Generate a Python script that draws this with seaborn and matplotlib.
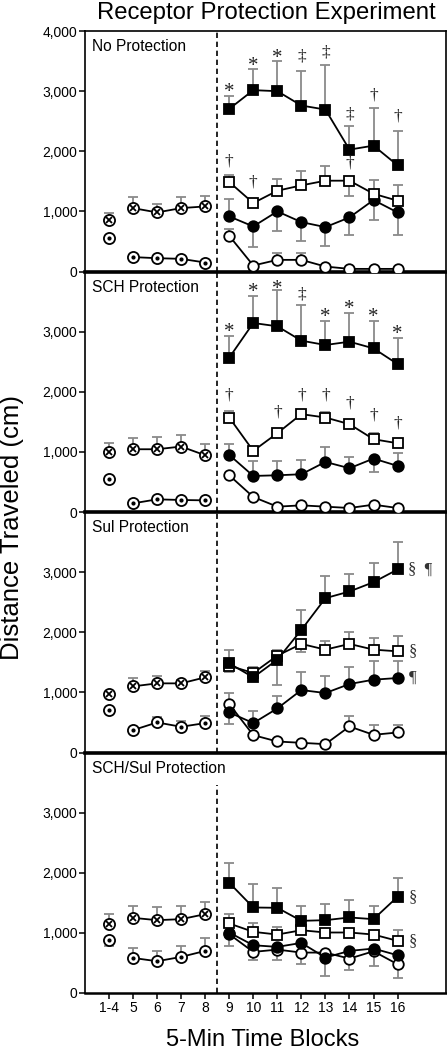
import numpy as np
import pandas as pd
import matplotlib
matplotlib.use("Agg")
import matplotlib.pyplot as plt
import seaborn as sns

# ---------------- data ----------------
x_labels = ["1-4", "5", "6", "7", "8", "9", "10", "11", "12", "13", "14", "15", "16"]
panel_titles = ["No Protection", "SCH Protection", "Sul Protection", "SCH/Sul Protection"]
y_ticks_top = [0, 1000, 2000, 3000, 4000]
y_tick_labels_top = ["0", "1,000", "2,000", "3,000", "4,000"]
y_ticks = [0, 1000, 2000, 3000]
y_tick_labels = ["0", "1,000", "2,000", "3,000"]

nan = np.nan
# pre-phase (blocks 1-4, 5, 6, 7, 8): crossed circles and dotted circles
pre_cross = [
    [860, 1055, 983, 1055, 1083],
    [1000, 1044, 1044, 1089, 944],
    [972, 1100, 1150, 1150, 1250],
    [1144, 1250, 1211, 1228, 1311],
]
pre_cross_err = [
    [110, 178, 139, 178, 167],
    [156, 195, 212, 194, 195],
    [nan, 139, 117, 60, 100],
    [162, 200, 211, 216, 206],
]
pre_dot = [
    [555, 240, 222, 211, 150],
    [556, 144, 211, 200, 194],
    [706, 372, 500, 428, 489],
    [889, 583, 528, 600, 700],
]
pre_dot_err = [
    [nan, nan, nan, nan, nan],
    [nan, nan, nan, nan, nan],
    [nan, nan, 83, 100, 122],
    [-111, 173, 172, 183, 217],
]
# post-phase (blocks 9-16)
sq_filled = [
    [2705, 3017, 3000, 2761, 2694, 2028, 2094, 1767],
    [2567, 3144, 3089, 2850, 2778, 2833, 2722, 2461],
    [1483, 1250, 1544, 2039, 2567, 2678, 2833, 3044],
    [1833, 1422, 1417, 1200, 1211, 1256, 1228, 1600],
]
sq_filled_err = [
    [212, 355, 494, 572, 734, 389, 628, 577],
    [361, 445, 600, 594, 394, 478, 450, 433],
    [223, nan, -416, 339, 361, 294, 317, 450],
    [334, 384, 322, 250, 261, 288, 222, 306],
]
sq_open = [
    [1489, 1139, 1344, 1433, 1511, 1511, 1294, 1178],
    [1572, 1017, 1311, 1628, 1572, 1461, 1211, 1144],
    [1444, 1322, 1611, 1806, 1711, 1806, 1711, 1683],
    [1156, 1017, 972, 1044, 1006, 1006, 972, 867],
]
sq_open_err = [
    [122, nan, 195, 234, 239, -250, 234, 261],
    [111, nan, nan, nan, 95, nan, 111, nan],
    [-111, 95, 95, -128, 139, 205, 195, 261],
    [155, 150, 128, nan, nan, nan, nan, 177],
]
circ_filled = [
    [917, 750, 1000, 822, 739, 900, 1189, 983],
    [950, 600, 611, 628, 833, 728, 889, 767],
    [667, 489, 733, 1039, 989, 1139, 1211, 1239],
    [1006, 794, 767, 833, 589, 700, 739, 628],
]
circ_filled_err = [
    [294, -350, -322, -322, -306, -289, -339, -372],
    [178, 250, 239, 233, 250, 189, -217, 211],
    [-195, 194, 211, 300, 289, 278, 317, 289],
    [-223, nan, nan, nan, -311, nan, nan, nan],
]
circ_open = [
    [594, 100, 194, 194, 83, 44, 44, 44],
    [611, 250, 89, 111, 89, 67, 122, 67],
    [806, 289, 183, 161, 139, 433, 294, 333],
    [978, 683, 722, 672, 672, 572, 694, 478],
]
circ_open_err = [
    [112, nan, 112, 112, nan, nan, nan, nan],
    [nan, nan, nan, nan, nan, nan, nan, nan],
    [183, nan, nan, nan, nan, 178, 162, 123],
    [nan, -139, -178, -183, nan, -194, -250, -222],
]
# significance marks: (block label, y value, symbol)
marks = [
    [("9", 3100, "*"), ("10", 3528, "*"), ("11", 3667, "*"), ("12", 3583, "‡"),
     ("13", 3639, "‡"), ("14", 2611, "‡"), ("15", 2928, "†"), ("16", 2583, "†"),
     ("9", 1833, "†"), ("10", 1489, "†"), ("14", 1794, "†")],
    [("9", 3100, "*"), ("10", 3767, "*"), ("11", 3822, "*"), ("12", 3611, "‡"),
     ("13", 3350, "*"), ("14", 3489, "*"), ("15", 3350, "*"), ("16", 3072, "*"),
     ("9", 1944, "†"), ("11", 1656, "†"), ("12", 1944, "†"), ("13", 1933, "†"),
     ("14", 1806, "†"), ("15", 1600, "†"), ("16", 1478, "†")],
    [],
    [],
]
# side marks right of block 16: (y value, symbol)
side_marks = [
    [],
    [],
    [(3044, "§  ¶"), (1683, "§"), (1239, "¶")],
    [(1600, "§"), (867, "§")],
]

# ---------------- style ----------------
sns.set_theme(style="ticks")
plt.rcParams["font.family"] = ["Liberation Sans", "DejaVu Sans"]

pos = {lab: i for i, lab in enumerate(x_labels)}
pre_x = [pos[l] for l in x_labels[:5]]
post_x = [pos[l] for l in x_labels[5:]]

fig = plt.figure(figsize=(4.47, 10.49), dpi=100)
gs = fig.add_gridspec(4, 1, left=0.19, right=0.997, top=0.9704, bottom=0.0534, hspace=0)
axes = [fig.add_subplot(gs[i]) for i in range(4)]

MS = 7.6
ERR_C = "#8a8a8a"


def errbars(ax, xs, ys, errs):
    xs = np.asarray(xs, float)
    ys = np.asarray(ys, float)
    errs = np.asarray(errs, float)
    ok = ~np.isnan(errs)
    if not ok.any():
        return
    e = errs[ok]
    lo = np.where(e < 0, -e, 0)
    hi = np.where(e > 0, e, 0)
    ax.errorbar(xs[ok], ys[ok], yerr=[lo, hi], fmt="none", ecolor=ERR_C,
                elinewidth=1.3, capsize=3.6, capthick=1.3, zorder=2)


def line(ax, xs, ys, marker, face, z):
    df = pd.DataFrame({"x": xs, "y": ys})
    sns.lineplot(data=df, x="x", y="y", ax=ax, color="black", linewidth=1.3,
                 marker=marker, markersize=MS, markerfacecolor=face,
                 markeredgecolor="black", markeredgewidth=1.3, legend=False,
                 zorder=z, estimator=None, sort=False)


def circle_pts(ax, xs, ys, inner, z):
    ax.plot(xs, ys, linestyle="none", marker="o", markersize=MS + 0.4,
            markerfacecolor="white", markeredgecolor="black",
            markeredgewidth=1.3, zorder=z)
    if inner == "x":
        ax.plot(xs, ys, linestyle="none", marker="x", markersize=4.6,
                markeredgecolor="black", markeredgewidth=1.3, zorder=z + 0.1)
    else:
        ax.plot(xs, ys, linestyle="none", marker="o", markersize=2.0,
                markerfacecolor="black", markeredgecolor="black", zorder=z + 0.1)


for i, ax in enumerate(axes):
    # pre-phase
    errbars(ax, pre_x, pre_cross[i], pre_cross_err[i])
    errbars(ax, pre_x, pre_dot[i], pre_dot_err[i])
    sns.lineplot(x=pre_x[1:], y=pre_cross[i][1:], ax=ax, color="black",
                 linewidth=1.3, legend=False, zorder=3)
    sns.lineplot(x=pre_x[1:], y=pre_dot[i][1:], ax=ax, color="black",
                 linewidth=1.3, legend=False, zorder=3)
    circle_pts(ax, pre_x, pre_cross[i], "x", 4)
    circle_pts(ax, pre_x, pre_dot[i], "dot", 4)

    # post-phase
    for ys, es, mk, fc, z in [
        (circ_open[i], circ_open_err[i], "o", "white", 4),
        (circ_filled[i], circ_filled_err[i], "o", "black", 5),
        (sq_open[i], sq_open_err[i], "s", "white", 6),
        (sq_filled[i], sq_filled_err[i], "s", "black", 7),
    ]:
        errbars(ax, post_x, ys, es)
        line(ax, post_x, ys, mk, fc, z)

    # significance marks
    for lab, yv, sym in marks[i]:
        fs = 15 if sym == "*" else 12.5
        yy = yv - 120 if sym == "*" else yv
        ax.text(pos[lab], yy, sym, ha="center", va="center", fontsize=fs,
                family=["Liberation Serif", "DejaVu Serif"], color="#222222", zorder=8)
    for yv, sym in side_marks[i]:
        ax.text(12.45, yv, sym, ha="left", va="center", fontsize=12,
                family=["Liberation Serif", "DejaVu Serif"], color="#333333", zorder=8)

    # dashed divider
    ax.axvline(4.5, color="black", linestyle=(0, (3.2, 2.2)), linewidth=1.2,
               ymin=0, ymax=(0.865 if i == 3 else 1), zorder=1)

    ax.text(0.02, 0.935, panel_titles[i], transform=ax.transAxes, ha="left",
            va="center", fontsize=11.2, color="black")

    ax.set_xlim(-1, 14)
    ax.set_ylim(0, 4000)
    if i == 0:
        ax.set_yticks(y_ticks_top)
        ax.set_yticklabels(y_tick_labels_top)
    else:
        ax.set_yticks(y_ticks)
        ax.set_yticklabels(y_tick_labels)
    ax.set_xlabel("")
    ax.set_ylabel("")
    ax.tick_params(axis="y", direction="out", length=4, width=1.1,
                   labelsize=10, pad=1.5, colors="black")
    for s in ["left", "right", "top", "bottom"]:
        ax.spines[s].set_color("black")
    ax.spines["left"].set_linewidth(1.2)
    ax.spines["right"].set_linewidth(1.2)
    ax.spines["top"].set_linewidth(1.2)
    ax.spines["top"].set_visible(i == 0)
    if i < 3:
        ax.spines["bottom"].set_linewidth(2.6)
        ax.set_xticks([])
    else:
        ax.spines["bottom"].set_linewidth(1.8)
        ax.set_xticks(range(len(x_labels)))
        ax.set_xticklabels(x_labels)
        ax.tick_params(axis="x", direction="out", length=4, width=1.1,
                       labelsize=10, pad=2, colors="black")
    ax.patch.set_visible(False)

fig.text(0.595, 0.9876, "Receptor Protection Experiment", ha="center",
         va="center", fontsize=17.2, color="black")
fig.text(0.588, 0.0086, "5-Min Time Blocks", ha="center", va="center",
         fontsize=17, color="black")
fig.text(0.027, 0.497, "Distance Traveled (cm)", ha="center", va="center",
         rotation=90, fontsize=18.5, color="black")

fig.savefig("out.png", dpi=100, facecolor="white")
